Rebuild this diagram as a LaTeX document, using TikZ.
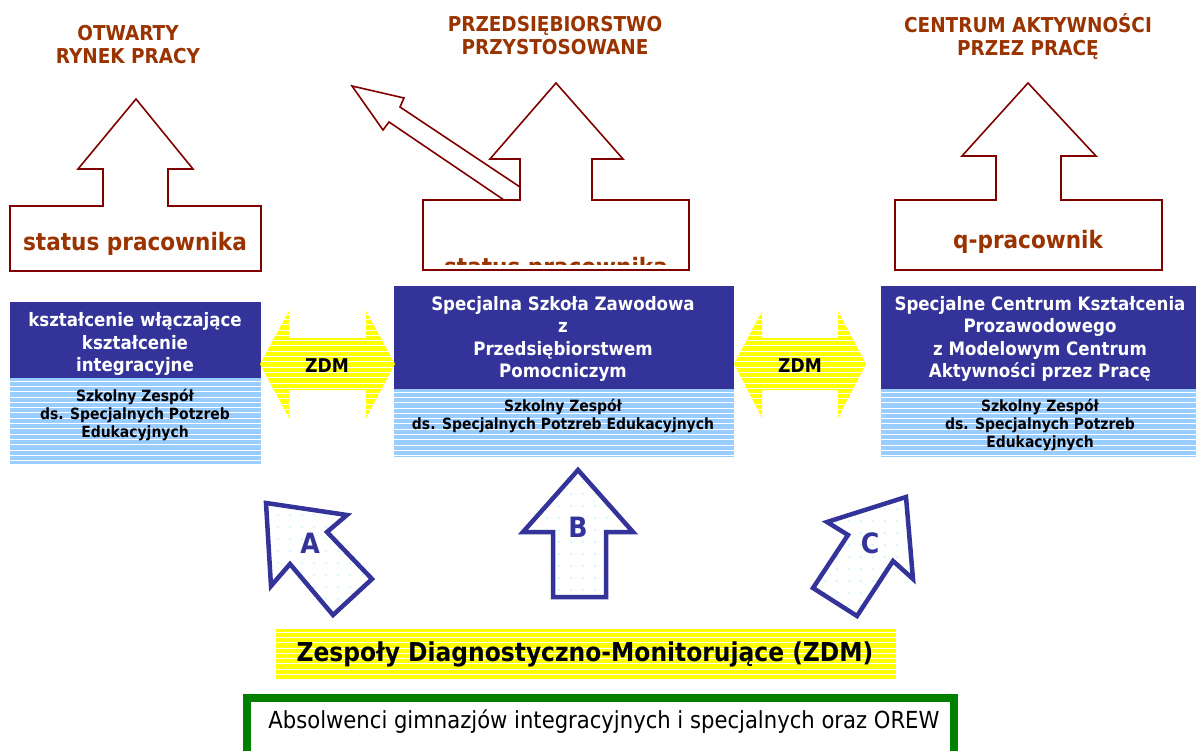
\documentclass[tikz,border=0pt]{standalone}
\usepackage{fontspec}
\setmainfont{DejaVu Sans Condensed}
\definecolor{titlebrown}{HTML}{993300}
\definecolor{arrowred}{HTML}{800000}
\definecolor{boxblue}{HTML}{333399}
\definecolor{paleblue}{HTML}{99CCFF}
\definecolor{zdmyellow}{HTML}{FFFF00}
\definecolor{dotcyan}{HTML}{C6F6FF}
\definecolor{framegreen}{HTML}{008000}
\begin{document}
\begin{tikzpicture}[x=1pt,y=-1pt]
\tikzset{toptitle/.style={text=titlebrown, align=center, inner sep=0pt, font=\bfseries\fontsize{20.5}{23}\selectfont}}
\tikzset{statustext/.style={text=titlebrown, inner sep=0pt, font=\bfseries\fontsize{24}{26}\selectfont}}
\tikzset{brownarrow/.style={draw=arrowred, line width=1.6pt, fill=white, line join=miter}}
\tikzset{boxtext/.style={text=white, align=center, inner sep=0pt, font=\bfseries\fontsize{18.5}{22.5}\selectfont}}
\tikzset{zesptext/.style={text=black, align=center, inner sep=0pt, font=\bfseries\fontsize{15.5}{18}\selectfont}}
\tikzset{stripefill/.style={fill=#1, path picture={
  \foreach \k in {0,...,22}
    \draw[white, line width=0.8pt] ([yshift=-\k*5.3pt-3pt]path picture bounding box.north west)
      -- ([yshift=-\k*5.3pt-3pt]path picture bounding box.north east);}}}
\tikzset{bluearrow/.style={draw=boxblue, line width=4.5pt, fill=white, line join=miter, path picture={
  \foreach \px in {0,12,...,132}
    \foreach \py in {0,12,...,156}
      \fill[dotcyan] ([shift={(\px,\py)}]path picture bounding box.north west) circle (1.1);}}}
\tikzset{letterlabel/.style={text=boxblue, inner sep=0pt, font=\bfseries\fontsize{28}{30}\selectfont}}
\useasboundingbox (0,0) rectangle (1199,751);
% goals
\node (otwarty) [toptitle] at (128,45) {OTWARTY\\RYNEK PRACY};
\node (przeds) [toptitle] at (555,36) {PRZEDSIĘBIORSTWO\\PRZYSTOSOWANE};
\node (centrum) [toptitle] at (1028,37) {CENTRUM AKTYWNOŚCI\\PRZEZ PRACĘ};
% status arrows
\draw[brownarrow] (10,271) -- (10,206) -- (103,206) -- (103,169) -- (78,169) -- (136,99)
  -- (193,169) -- (168,169) -- (168,206) -- (261,206) -- (261,271) -- cycle;
\draw[brownarrow] (352,86) -- (404,98) -- (400,107) -- (520,187) -- (520,200) -- (504,200)
  -- (389,122) -- (383,130) -- cycle;
\draw[brownarrow] (423,270) -- (423,200) -- (520,200) -- (520,159) -- (490,159) -- (556,83)
  -- (623,159) -- (592,159) -- (592,200) -- (689,200) -- (689,270) -- cycle;
\draw[brownarrow] (895,270) -- (895,200) -- (996,200) -- (996,156) -- (962,156) -- (1028,83)
  -- (1096,156) -- (1061,156) -- (1061,200) -- (1162,200) -- (1162,270) -- cycle;
\node (statusl) [statustext] at (135,244) {status pracownika};
\begin{scope}
\clip (424,201) rectangle (688,265);
\node (statusm) [statustext] at (556,269) {status pracownika};
\end{scope}
\node (qprac) [statustext] at (1028,242) {q-pracownik};
% schools
\fill[boxblue] (10,302) rectangle (261,378);
\node (ksztal) [boxtext] at (135,344) {kształcenie włączające\\kształcenie\\integracyjne};
\path[stripefill=paleblue] (10,378) rectangle (261,464);
\node (zespl) [zesptext] at (135,415) {Szkolny Zespół\\ds. Specjalnych Potzreb\\Edukacyjnych};
\fill[boxblue] (394,286) rectangle (734,389);
\node (szkola) [boxtext] at (563,339) {Specjalna Szkoła Zawodowa\\z\\Przedsiębiorstwem\\Pomocniczym};
\path[stripefill=paleblue] (394,389) rectangle (734,457);
\node (zespm) [zesptext] at (563,416) {Szkolny Zespół\\ds. Specjalnych Potzreb Edukacyjnych};
\fill[boxblue] (881,286) rectangle (1196,389);
\node (scentr) [boxtext] at (1040,339) {Specjalne Centrum Kształcenia\\Prozawodowego\\z Modelowym Centrum\\Aktywności przez Pracę};
\path[stripefill=paleblue] (881,389) rectangle (1196,457);
\node (zespr) [zesptext] at (1040,425) {Szkolny Zespół\\ds. Specjalnych Potzreb\\Edukacyjnych};
% ZDM links
\path[stripefill=zdmyellow] (260,364) -- (289,311) -- (289,338) -- (366,338) -- (366,311) -- (395,364)
  -- (366,418) -- (366,390) -- (289,390) -- (289,418) -- cycle;
\node (zdml) [inner sep=0pt, font=\bfseries\fontsize{19}{21}\selectfont] at (327,366) {ZDM};
\path[stripefill=zdmyellow] (734,364) -- (762,311) -- (762,338) -- (838,338) -- (838,311) -- (866,364)
  -- (838,418) -- (838,390) -- (762,390) -- (762,418) -- cycle;
\node (zdmr) [inner sep=0pt, font=\bfseries\fontsize{19}{21}\selectfont] at (800,366) {ZDM};
% paths A B C
\draw[bluearrow] (266,503) -- (347,515) -- (327,532) -- (372,579) -- (333,615) -- (290,564) -- (271,586) -- cycle;
\node (pa) [letterlabel] at (310,543) {A};
\draw[bluearrow] (578,470) -- (633,532) -- (606,532) -- (606,597) -- (553,597) -- (553,532) -- (523,532) -- cycle;
\node (pb) [letterlabel] at (578,527) {B};
\draw[bluearrow] (906,497) -- (913,579) -- (893,561) -- (857,616) -- (813,588) -- (848,535) -- (827,522) -- cycle;
\node (pc) [letterlabel] at (870,543) {C};
% teams and graduates
\path[stripefill=zdmyellow] (276,629) rectangle (896,679);
\node (zespoly) [inner sep=0pt, font=\bfseries\fontsize{26}{28}\selectfont] at (585,654) {Zespoły Diagnostyczno-Monitorujące (ZDM)};
\draw[framegreen, line width=8pt, fill=white] (247,698) rectangle (954,760);
\node (absolw) [inner sep=0pt, font=\fontsize{23.5}{25}\selectfont] at (604,722) {Absolwenci gimnazjów integracyjnych i specjalnych oraz OREW};
\end{tikzpicture}
\end{document}
